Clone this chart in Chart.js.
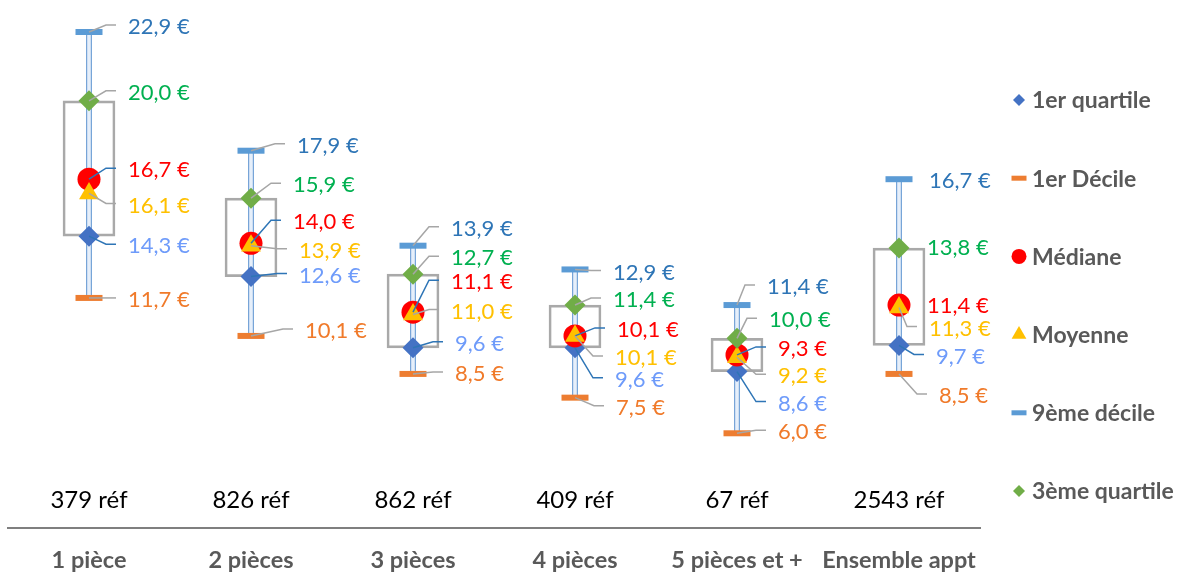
<!DOCTYPE html>
<html lang="fr">
<head>
<meta charset="utf-8">
<title>Loyers au m² par taille de logement</title>
<script src="https://cdn.jsdelivr.net/npm/chart.js@4.4.1/dist/chart.umd.min.js"></script>
<style>
  html, body { margin: 0; padding: 0; background: #ffffff; }
  #wrap { width: 1180px; height: 572px; }
</style>
</head>
<body>
<div id="wrap"><canvas id="chart" width="1180" height="572"></canvas></div>
<script>
// Categories and sample sizes
const categories = ['1 pièce', '2 pièces', '3 pièces', '4 pièces', '5 pièces et +', 'Ensemble appt'];
const refCounts = ['379 réf', '826 réf', '862 réf', '409 réf', '67 réf', '2543 réf'];

// Rent per m² (€) for each statistic
const firstQuartile = [14.3, 12.6, 9.6, 9.6, 8.6, 9.7];
const firstDecile   = [11.7, 10.1, 8.5, 7.5, 6.0, 8.5];
const medianValues  = [16.7, 14.0, 11.1, 10.1, 9.3, 11.4];
const meanValues    = [16.1, 13.9, 11.0, 10.1, 9.2, 11.3];
const ninthDecile   = [22.9, 17.9, 13.9, 12.9, 11.4, 16.7];
const thirdQuartile = [20.0, 15.9, 12.7, 11.4, 10.0, 13.8];

// Label placement (pixel offsets from each marker), kept apart from the values
const labelDx = {
  q1:   [39, 48, 42, 40, 41, 37],
  d1:   [39, 54, 42, 41, 41, 40],
  med:  [39, 42, 38, 42, 41, 28],
  mean: [39, 48, 38, 40, 41, 30],
  d9:   [39, 46, 38, 38, 30, 30],
  q3:   [39, 42, 38, 38, 32, 28]
};
const labelDy = {
  q1:   [10, -1, -4, 32, 32, 11],
  d1:   [2, -5, 0, 10, -1, 22],
  med:  [-9, -21, -30, -6, -6, 1],
  mean: [12, 5, -3, 22, 19, 21],
  d9:   [-5, -5, -17, 3, -18, 2],
  q3:   [-8, -13, -16, -5, -18, 0]
};

const FONT = 'Lato, "Open Sans", "DejaVu Sans", sans-serif';
const GREY_LEADER = '#A6A6A6';
const BLUE_LEADER = '#2E75B6';

// Marker series, in legend order
const series = [
  { key: 'q1',   label: '1er quartile',   data: firstQuartile, color: '#4472C4', text: '#6E9BFA', leader: BLUE_LEADER, style: 'rectRot',  radius: 10.5, legendRadius: 6 },
  { key: 'd1',   label: '1er Décile',     data: firstDecile,   color: '#ED7D31', text: '#F07A2A', leader: GREY_LEADER, style: 'line',     radius: 13.5, legendRadius: 7.5, line: 6 },
  { key: 'med',  label: 'Médiane',        data: medianValues,  color: '#FF0000', text: '#FF0000', leader: BLUE_LEADER, style: 'circle',   radius: 11.5, legendRadius: 7.5 },
  { key: 'mean', label: 'Moyenne',        data: meanValues,    color: '#FFC000', text: '#FFC000', leader: GREY_LEADER, style: 'triangle', radius: 11.5, legendRadius: 8.5 },
  { key: 'd9',   label: '9ème décile',    data: ninthDecile,   color: '#5B9BD5', text: '#2E75B6', leader: GREY_LEADER, style: 'line',     radius: 13.5, legendRadius: 7.5, line: 6 },
  { key: 'q3',   label: '3ème quartile',  data: thirdQuartile, color: '#70AD47', text: '#00B050', leader: GREY_LEADER, style: 'rectRot',  radius: 10.5, legendRadius: 6 }
];

const fmt = v => v.toFixed(1).replace('.', ',') + ' €';

// Marker datasets: later series are drawn on top (lower order = drawn last)
const markerDatasets = series.map((s, i) => ({
  type: 'line',
  label: s.label,
  data: s.data,
  showLine: false,
  xAxisID: 'x',
  order: series.length - i,
  pointStyle: s.style,
  pointRadius: s.radius,
  pointHoverRadius: s.radius,
  pointBackgroundColor: s.color,
  pointBorderColor: s.color,
  pointBorderWidth: s.line || 0,
  clip: false
}));

// Whisker (1er décile -> 9ème décile) and box (1er -> 3ème quartile)
const whiskerDataset = {
  type: 'bar',
  label: 'whisker',
  data: firstDecile.map((d, i) => [d, ninthDecile[i]]),
  xAxisID: 'x',
  order: 20,
  grouped: false,
  barThickness: 5,
  backgroundColor: '#E6EFFA',
  borderColor: '#3A7CC6',
  borderWidth: 1,
  borderSkipped: false
};
const boxDataset = {
  type: 'bar',
  label: 'box',
  data: firstQuartile.map((q, i) => [q, thirdQuartile[i]]),
  xAxisID: 'x',
  order: 21,
  grouped: false,
  barThickness: 52,
  backgroundColor: 'rgba(0,0,0,0)',
  borderColor: '#A9A9A9',
  borderWidth: 2,
  borderSkipped: false
};

// Value labels with elbow leader lines
const valueLabels = {
  id: 'valueLabels',
  afterDatasetsDraw(chart) {
    const ctx = chart.ctx;
    ctx.save();
    ctx.font = '22px ' + FONT;
    ctx.textBaseline = 'middle';
    ctx.textAlign = 'left';
    series.forEach((s, si) => {
      const meta = chart.getDatasetMeta(si);
      meta.data.forEach((pt, j) => {
        const dx = labelDx[s.key][j];
        const dy = labelDy[s.key][j];
        const lx = pt.x + dx;
        const ly = pt.y + dy;
        if (dx > 33 || Math.abs(dy) >= 8) {
          ctx.beginPath();
          ctx.strokeStyle = s.leader;
          ctx.lineWidth = 1.5;
          ctx.moveTo(pt.x, pt.y);
          ctx.lineTo(lx - 22, ly - 2);
          ctx.lineTo(lx - 12, ly - 2);
          ctx.stroke();
        }
        ctx.fillStyle = s.text;
        ctx.fillText(fmt(s.data[j]), lx, ly);
      });
    });
    ctx.restore();
  }
};

// Legend column on the right
const sideLegend = {
  id: 'sideLegend',
  afterDraw(chart) {
    const ctx = chart.ctx;
    ctx.save();
    series.forEach((s, i) => {
      const y = 100 + i * 78.2;
      ctx.fillStyle = s.color;
      ctx.strokeStyle = s.color;
      ctx.lineWidth = s.line ? 5 : 0;
      Chart.helpers.drawPoint(ctx, {
        pointStyle: s.style,
        radius: s.legendRadius,
        rotation: 0,
        borderWidth: s.line ? 5 : 0
      }, 1019, y);
      ctx.fillStyle = '#595959';
      ctx.font = 'bold 23px ' + FONT;
      ctx.textBaseline = 'middle';
      ctx.textAlign = 'left';
      ctx.fillText(s.label, 1032, y + 1);
    });
    ctx.restore();
  }
};

new Chart(document.getElementById('chart'), {
  data: {
    labels: categories,
    datasets: [...markerDatasets, whiskerDataset, boxDataset]
  },
  options: {
    responsive: false,
    devicePixelRatio: 1,
    animation: false,
    events: [],
    layout: { autoPadding: false, padding: { left: 8, right: 200, top: 8, bottom: 0 } },
    plugins: {
      legend: { display: false },
      tooltip: { enabled: false }
    },
    scales: {
      y: {
        type: 'linear',
        display: false,
        min: 3.78,
        max: 23.91
      },
      x2: {
        type: 'category',
        position: 'bottom',
        labels: refCounts,
        offset: true,
        weight: 0,
        grid: { display: false, drawTicks: false },
        border: { display: false },
        ticks: {
          color: '#000000',
          font: { family: FONT, size: 24 },
          padding: 0,
          maxRotation: 0,
          autoSkip: false
        },
        afterFit(scale) { scale.height = 42; }
      },
      x: {
        type: 'category',
        position: 'bottom',
        offset: true,
        weight: 1,
        grid: { display: false, drawTicks: false },
        border: { display: true, color: '#7F7F7F', width: 2 },
        ticks: {
          color: '#595959',
          font: { family: FONT, size: 23.5, weight: 'bold' },
          padding: 18,
          maxRotation: 0,
          autoSkip: false
        },
        afterFit(scale) { scale.height = 44; }
      }
    }
  },
  plugins: [valueLabels, sideLegend]
});
</script>
</body>
</html>
